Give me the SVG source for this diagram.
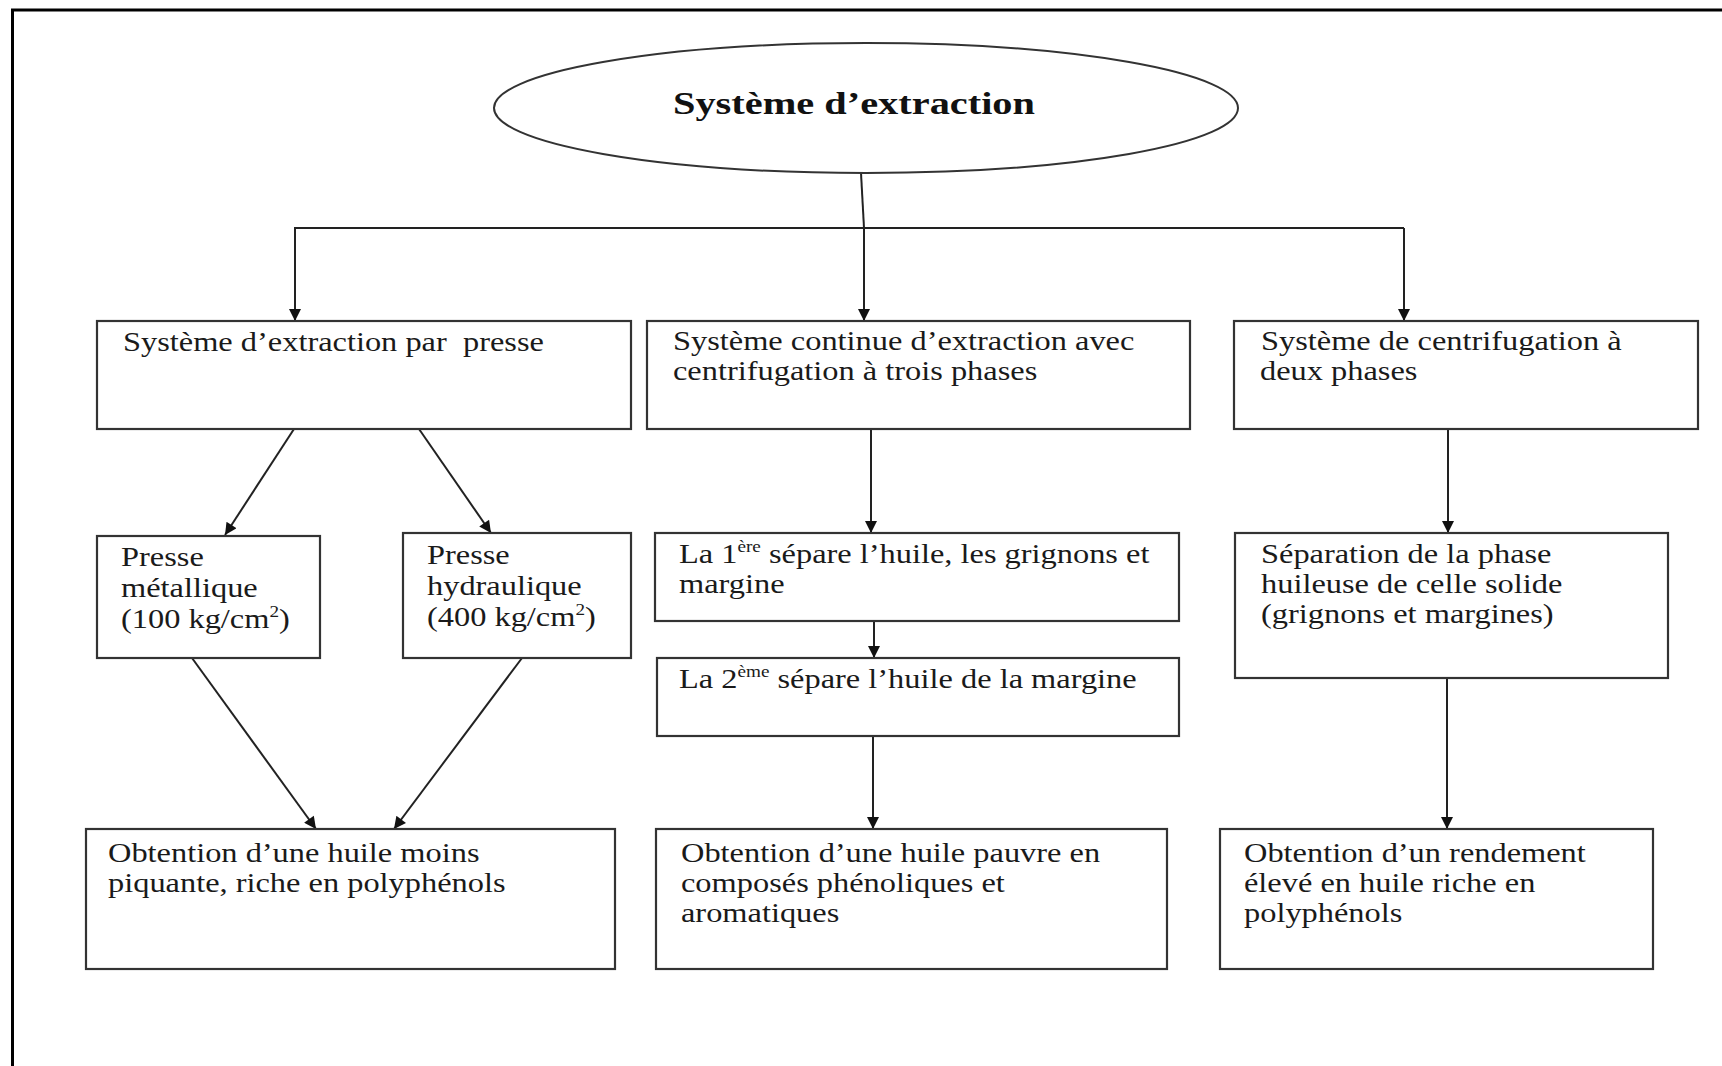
<svg xmlns="http://www.w3.org/2000/svg" width="1722" height="1066" viewBox="0 0 1722 1066">
  <style>
    .box { fill: #ffffff; stroke: #333333; stroke-width: 2.2; }
    .ell { fill: #ffffff; stroke: #333333; stroke-width: 2; }
    .t { font-family: "Liberation Serif", "Times New Roman", serif; font-size: 27px; fill: #1a1a1a; transform-box: fill-box; transform-origin: 0 0; transform: scaleX(1.2); }
    .title { font-family: "Liberation Serif", "Times New Roman", serif; font-size: 31px; font-weight: bold; fill: #111111; }
    .sup { font-size: 16px; }
    .conn line, .conn path { stroke: #222222; stroke-width: 2; fill: none; }
    .arr { marker-end: url(#ah); }
  </style>
  <defs>
    <marker id="ah" viewBox="0 0 10 10" refX="10" refY="5" markerWidth="14" markerHeight="12" markerUnits="userSpaceOnUse" orient="auto">
      <path d="M0,0 L10,5 L0,10 z" fill="#111111"/>
    </marker>
  </defs>

  <rect x="0" y="0" width="1722" height="1066" fill="#ffffff"/>
  <path d="M12.5,1066 L12.5,10 L1722,10" fill="none" stroke="#000000" stroke-width="3"/>

  <g id="connectors" class="conn">
    <line x1="861" y1="173" x2="864" y2="228"/>
    <line x1="294" y1="228" x2="1404" y2="228" stroke-width="2.5"/>
    <line class="arr" x1="295" y1="228" x2="295" y2="321"/>
    <line class="arr" x1="864" y1="228" x2="864" y2="321"/>
    <line class="arr" x1="1404" y1="228" x2="1404" y2="321"/>
    <line class="arr" x1="294" y1="429" x2="225" y2="535"/>
    <line class="arr" x1="419" y1="429" x2="491" y2="533"/>
    <line class="arr" x1="871" y1="429" x2="871" y2="533"/>
    <line class="arr" x1="874" y1="621" x2="874" y2="658"/>
    <line class="arr" x1="1448" y1="429" x2="1448" y2="533"/>
    <line class="arr" x1="192" y1="658" x2="316" y2="829"/>
    <line class="arr" x1="522" y1="658" x2="394" y2="829"/>
    <line class="arr" x1="873" y1="736" x2="873" y2="829"/>
    <line class="arr" x1="1447" y1="678" x2="1447" y2="829"/>
  </g>

  <g id="root">
    <ellipse class="ell" cx="866" cy="108" rx="372" ry="65"/>
    <text class="title" x="673" y="114" textLength="362" lengthAdjust="spacingAndGlyphs">Système d’extraction</text>
  </g>

  <g id="presse">
    <rect class="box" x="97" y="321" width="534" height="108"/>
    <text class="t" x="123" y="351" xml:space="preserve">Système d’extraction par  presse</text>
  </g>

  <g id="continu">
    <rect class="box" x="647" y="321" width="543" height="108"/>
    <text class="t" x="673" y="350">Système continue d’extraction avec</text>
    <text class="t" x="673" y="380">centrifugation à trois phases</text>
  </g>

  <g id="deux-phases">
    <rect class="box" x="1234" y="321" width="464" height="108"/>
    <text class="t" x="1261" y="350">Système de centrifugation à</text>
    <text class="t" x="1260" y="380">deux phases</text>
  </g>

  <g id="metallique">
    <rect class="box" x="97" y="536" width="223" height="122"/>
    <text class="t" x="121" y="566">Presse</text>
    <text class="t" x="121" y="597">métallique</text>
    <text class="t" x="121" y="628">(100 kg/cm<tspan class="sup" dy="-11">2</tspan><tspan dy="11">)</tspan></text>
  </g>

  <g id="hydraulique">
    <rect class="box" x="403" y="533" width="228" height="125"/>
    <text class="t" x="427" y="564">Presse</text>
    <text class="t" x="427" y="595">hydraulique</text>
    <text class="t" x="427" y="626">(400 kg/cm<tspan class="sup" dy="-11">2</tspan><tspan dy="11">)</tspan></text>
  </g>

  <g id="premiere">
    <rect class="box" x="655" y="533" width="524" height="88"/>
    <text class="t" x="679" y="563">La 1<tspan class="sup" dy="-11">ère</tspan><tspan dy="11"> sépare l’huile, les grignons et</tspan></text>
    <text class="t" x="679" y="593">margine</text>
  </g>

  <g id="deuxieme">
    <rect class="box" x="657" y="658" width="522" height="78"/>
    <text class="t" x="679" y="688">La 2<tspan class="sup" dy="-11">ème</tspan><tspan dy="11"> sépare l’huile de la margine</tspan></text>
  </g>

  <g id="separation">
    <rect class="box" x="1235" y="533" width="433" height="145"/>
    <text class="t" x="1261" y="563">Séparation de la phase</text>
    <text class="t" x="1261" y="593">huileuse de celle solide</text>
    <text class="t" x="1261" y="623">(grignons et margines)</text>
  </g>

  <g id="resultat-presse">
    <rect class="box" x="86" y="829" width="529" height="140"/>
    <text class="t" x="108" y="862">Obtention d’une huile moins</text>
    <text class="t" x="108" y="892">piquante, riche en polyphénols</text>
  </g>

  <g id="resultat-trois">
    <rect class="box" x="656" y="829" width="511" height="140"/>
    <text class="t" x="681" y="862">Obtention d’une huile pauvre en</text>
    <text class="t" x="681" y="892">composés phénoliques et</text>
    <text class="t" x="681" y="922">aromatiques</text>
  </g>

  <g id="resultat-deux">
    <rect class="box" x="1220" y="829" width="433" height="140"/>
    <text class="t" x="1244" y="862">Obtention d’un rendement</text>
    <text class="t" x="1244" y="892">élevé en huile riche en</text>
    <text class="t" x="1244" y="922">polyphénols</text>
  </g>
</svg>
